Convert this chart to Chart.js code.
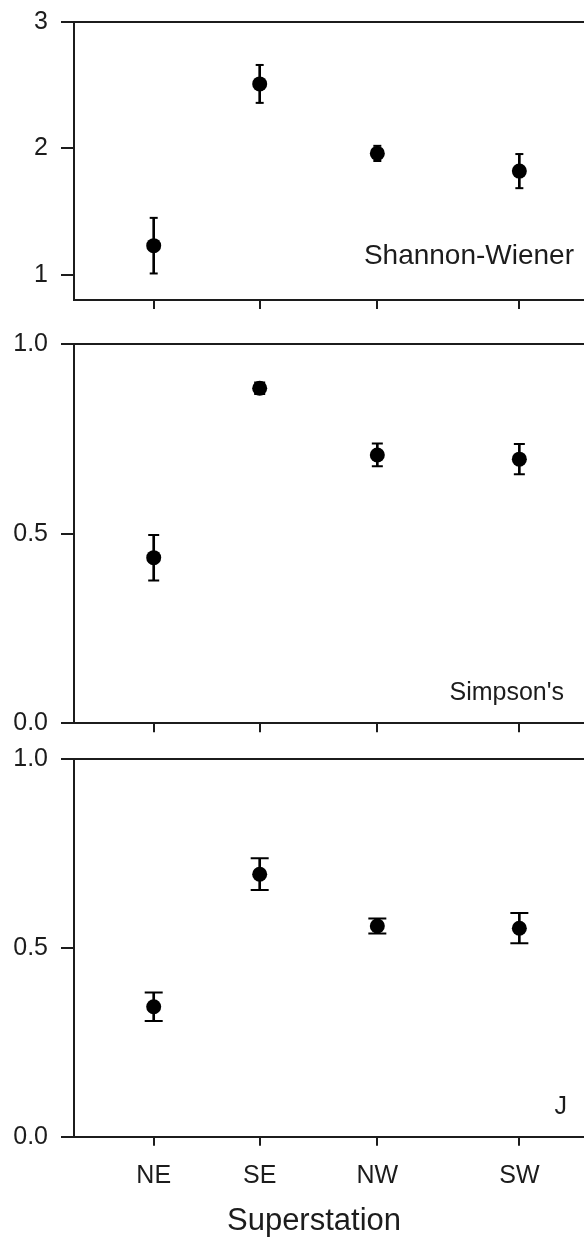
<!DOCTYPE html>
<html><head><meta charset="utf-8">
<script src="https://cdn.jsdelivr.net/npm/chart.js@4/dist/chart.umd.min.js"></script>
<style>
html,body{margin:0;padding:0;background:#fff;width:584px;height:1240px;overflow:hidden}
#wrap{position:relative;width:584px;height:1240px}
canvas{position:absolute;left:0}
</style></head><body>
<div id="wrap">
<canvas id="c1" width="584" height="320" style="top:0px"></canvas>
<canvas id="c2" width="584" height="420" style="top:320px"></canvas>
<canvas id="c3" width="584" height="500" style="top:740px"></canvas>
</div>
<script>
// ---- data ----
const categories = ['NE', 'SE', 'NW', 'SW'];
const stationX = [1, 2, 3.11, 4.45];
const xRange = [0.248, 5.06];
const xTitle = 'Superstation';

const shannonMean = [1.23, 2.51, 1.96, 1.82];
const shannonSE   = [0.22, 0.15, 0.06, 0.135];
const shannonTicks = [1, 2, 3];
const shannonRange = [0.8, 3];

const simpsonMean = [0.437, 0.884, 0.708, 0.697];
const simpsonSE   = [0.06, 0.015, 0.03, 0.04];

const evenMean = [0.344, 0.695, 0.558, 0.552];
const evenSE   = [0.038, 0.042, 0.02, 0.04];

const fracTicks = [0, 0.5, 1];
const fracRange = [0, 1];

// ---- styling ----
const FONT = '"Liberation Sans", Arial, sans-serif';
const INK = '#1c1c1c';

const panelText = {
  id: 'panelText',
  afterDraw(chart, args, o) {
    const {ctx, chartArea: a} = chart;
    ctx.save();
    ctx.fillStyle = INK;
    if (o.label) {
      const l = o.label;
      ctx.font = l.size + 'px ' + FONT;
      ctx.textAlign = 'right';
      ctx.textBaseline = 'alphabetic';
      ctx.fillText(l.text, a.right - l.right, a.bottom - l.bottom);
    }
    if (o.title) {
      const t = o.title;
      ctx.font = t.size + 'px ' + FONT;
      ctx.textAlign = 'center';
      ctx.textBaseline = 'middle';
      ctx.fillText(t.text, a.left + t.left, a.bottom + t.down);
    }
    ctx.restore();
  }
};

function noPad(s) { s.paddingTop = 0; s.paddingBottom = 0; s.paddingLeft = 0; s.paddingRight = 0; }

function makePanel(id, cfg) {
  const means = cfg.mean, se = cfg.se;
  const markers = means.map((m, i) => ({x: stationX[i], y: m}));
  const caps = means.map((m, i) => ({x: stationX[i], y: m - se[i]}))
    .concat(means.map((m, i) => ({x: stationX[i], y: m + se[i]})));
  const bars = means.map((m, i) => ({x: stationX[i], y: [m - se[i], m + se[i]]}));
  return new Chart(document.getElementById(id), {
    type: 'scatter',
    data: {
      datasets: [
        {type: 'scatter', data: markers, pointRadius: 7.5, pointHoverRadius: 7.5,
         pointBackgroundColor: '#000', pointBorderColor: '#000', pointBorderWidth: 0, order: 0},
        {type: 'scatter', data: caps, pointStyle: 'line', pointRadius: cfg.capR, pointHoverRadius: cfg.capR,
         pointBorderColor: '#000', pointBorderWidth: 2, order: 1},
        {type: 'bar', data: bars, barThickness: 2, backgroundColor: '#000', borderWidth: 0, order: 2}
      ]
    },
    options: {
      responsive: false, animation: false, events: [], devicePixelRatio: 1,
      layout: {autoPadding: false, padding: {top: cfg.padTop, left: 0, right: 0, bottom: 0}},
      plugins: {legend: {display: false}, tooltip: {enabled: false},
        panelText: {label: cfg.label, title: cfg.showX ? {text: xTitle, size: 31, left: 240, down: 84.5} : null}},
      scales: {
        x: {
          type: 'linear', position: 'bottom', min: xRange[0], max: xRange[1], offset: false,
          afterBuildTicks: s => { s.ticks = stationX.map(v => ({value: v})); },
          afterFit: s => { s.height = cfg.xH; noPad(s); },
          ticks: {display: cfg.showX, padding: 15, color: INK, autoSkip: false, maxRotation: 0,
            font: {family: FONT, size: 25}, callback: (v, i) => categories[i]},
          grid: {offset: false, drawOnChartArea: false, tickLength: 9, lineWidth: 2, color: INK},
          border: {width: 2, color: INK}
        },
        xTop: {
          type: 'linear', position: 'top', min: xRange[0], max: xRange[1], offset: false,
          afterFit: s => { s.height = 0; noPad(s); },
          ticks: {display: false},
          grid: {drawOnChartArea: false, drawTicks: false, color: INK},
          border: {display: true, width: 2, color: INK}
        },
        y: {
          type: 'linear', position: 'left', min: cfg.range[0], max: cfg.range[1],
          afterBuildTicks: s => { s.ticks = cfg.ticks.map(v => ({value: v})); },
          afterFit: s => { s.width = 74; noPad(s); },
          ticks: {padding: 13, color: INK, font: {family: FONT, size: 25},
            callback: v => cfg.dec ? Number(v).toFixed(1) : String(v)},
          grid: {drawOnChartArea: false, tickLength: 13, lineWidth: 2, color: INK},
          border: {width: 2, color: INK}
        }
      }
    },
    plugins: [panelText]
  });
}

makePanel('c1', {mean: shannonMean, se: shannonSE, ticks: shannonTicks, range: shannonRange, dec: false,
  capR: 4, padTop: 22, xH: 20, showX: false,
  label: {text: 'Shannon-Wiener', size: 28, right: 10, bottom: 36}});
makePanel('c2', {mean: simpsonMean, se: simpsonSE, ticks: fracTicks, range: fracRange, dec: true,
  capR: 5.5, padTop: 24.3, xH: 16.7, showX: false,
  label: {text: "Simpson's", size: 25, right: 20, bottom: 23}});
makePanel('c3', {mean: evenMean, se: evenSE, ticks: fracTicks, range: fracRange, dec: true,
  capR: 9, padTop: 19, xH: 103.3, showX: true,
  label: {text: 'J', size: 25, right: 17, bottom: 23}});
</script>
</body></html>
